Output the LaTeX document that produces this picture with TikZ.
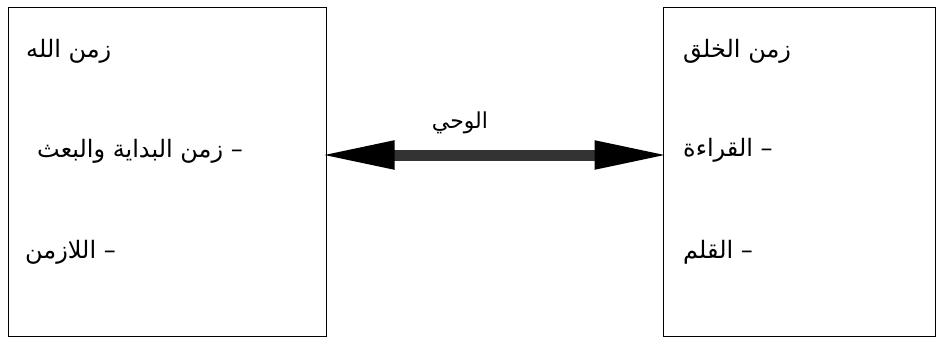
\documentclass[tikz,border=0pt]{standalone}
\usepackage{fontspec}
\usetikzlibrary{arrows.meta}
\TeXXeTstate=1
\newfontfamily\arabicfont[Script=Arabic]{DejaVu Sans}
\tikzset{
  box/.style={draw=black, line width=1pt, rectangle, inner sep=0pt},
  txt/.style={anchor=west, inner sep=0pt, font=\arabicfont\fontsize{24}{28}\selectfont},
  lbl/.style={inner sep=0pt, font=\arabicfont\fontsize{22}{26}\selectfont},
  bigarrow/.style={line width=11pt, draw=black!80, shorten <=-8pt, shorten >=-8pt,
    {Triangle[length=76pt,width=26pt,color=black]}-{Triangle[length=76pt,width=26pt,color=black]}}
}
\begin{document}
\begin{tikzpicture}[x=1pt,y=-1pt]
\useasboundingbox (0,0) rectangle (942,343);
\node[box, minimum width=318pt, minimum height=329pt] (L) at (167,171.5) {};
\node[box, minimum width=272pt, minimum height=329pt] (R) at (799,171.5) {};
\node[txt] (l1) at (26,51) {\beginR زمن الله\endR};
\node[txt] (l2) at (37,151) {\beginR – زمن البداية والبعث\endR};
\node[txt] (l3) at (25,252) {\beginR – اللازمن\endR};
\node[txt] (r1) at (683,51) {\beginR زمن الخلق\endR};
\node[txt] (r2) at (683,150) {\beginR – القراءة\endR};
\node[txt] (r3) at (683,252) {\beginR – القلم\endR};
\coordinate (aL) at (L.east |- 0,155);
\coordinate (aR) at (R.west |- 0,155);
\draw[bigarrow] (aL) -- (aR);
\node[lbl] (w) at (460,123) {\beginR الوحي\endR};
\end{tikzpicture}
\end{document}
